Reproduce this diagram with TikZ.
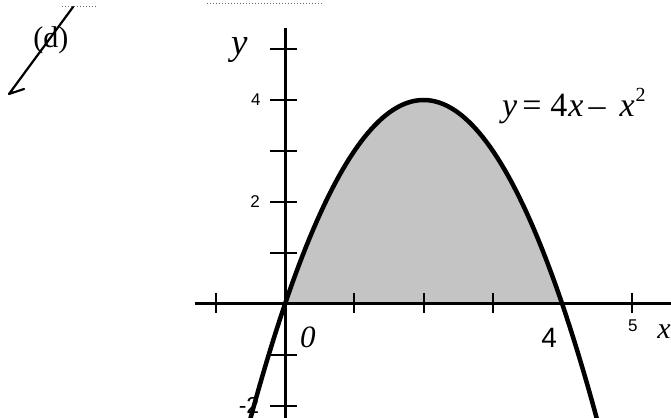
\documentclass[tikz,border=0pt]{standalone}
\usepackage{fontspec}
\setmainfont{Liberation Serif}
\setsansfont{Liberation Sans}
\begin{document}
\begin{tikzpicture}[x=69.3pt,y=51pt,
  axisline/.style={line width=3pt},
  tickline/.style={line width=2pt},
  curveline/.style={line width=4.5pt,line join=round},
  region/.style={fill=black!23},
  ticklab/.style={font=\sffamily\fontsize{17}{17}\selectfont,inner sep=0pt},
  itlab/.style={inner sep=0pt},
  scribble/.style={line width=2.2pt,line cap=round,line join=round},
  speck/.style={line width=1pt,dotted,black!60}]
\useasboundingbox (-4.113,-2.216) rectangle (5.570,5.961);
\clip (-4.113,-2.216) rectangle (5.570,5.961);
% shaded region
\fill[region] (0,0) -- plot[domain=0:4,samples=80] (\x,{4*\x-\x*\x}) -- cycle;
% axes
\coordinate (xl) at (-1.3,0);
\coordinate (xr) at (5.6,0);
\coordinate (yb) at (0,-2.3);
\coordinate (yt) at (0,5.41);
\draw[axisline] (xl) -- (xr);
\draw[axisline] (yb) -- (yt);
% ticks
\foreach \t in {5,4,3,2,1,-1,-2}{\draw[tickline] (-0.216,\t) -- (0.173,\t);}
\foreach \t in {-1,1,2,3,5}{\draw[tickline] (\t,0.216) -- (\t,-0.176);}
% curve
\draw[curveline] plot[domain=-0.58:4.58,samples=100] (\x,{4*\x-\x*\x});
% labels
\node[itlab,font=\itshape\fontsize{37}{37}\selectfont] (ylab) at (-0.66,4.98) {y};
\node[ticklab] (l4) at (-0.42,4) {4};
\node[ticklab] (l2) at (-0.43,2) {2};
\node[ticklab,font=\sffamily\fontsize{23}{23}\selectfont] (lm2) at (-0.52,-1.99) {-2};
\node[itlab,font=\itshape\fontsize{31}{31}\selectfont] (l0) at (0.33,-0.65) {0};
\node[itlab,font=\sffamily\fontsize{28}{28}\selectfont] (x4) at (3.81,-0.67) {4};
\node[ticklab] (x5) at (5.02,-0.43) {5};
\node[itlab,font=\itshape\fontsize{30}{30}\selectfont] (xlab) at (5.47,-0.55) {x};
\node[itlab,anchor=base west,font=\fontsize{34}{34}\selectfont] (eq) at (3.131,3.667)
  {\textit{y}\hspace{5pt}=\hspace{9pt}4\hspace{1pt}\textit{x}\hspace{5pt}–\hspace{14pt}\textit{x}\hspace{1pt}\raisebox{15pt}{\fontsize{20}{20}\selectfont 2}};
% (d) label with strike
\node[font=\fontsize{30}{30}\selectfont,inner sep=0pt] (dlab) at (-3.38,5.18) {(d)};
\coordinate (s1) at (-3.059,5.824);
\coordinate (s2) at (-3.983,4.118);
\coordinate (s3) at (-3.766,4.216);
\draw[scribble] (s1) -- (s2) -- (s3);
% scan specks along the top
\coordinate (p1) at (-1.125,5.90);
\coordinate (p2) at (0.548,5.90);
\coordinate (p3) at (-3.218,5.84);
\coordinate (p4) at (-2.713,5.84);
\draw[speck] (p1) -- (p2);
\draw[speck] (p3) -- (p4);
\end{tikzpicture}
\end{document}
